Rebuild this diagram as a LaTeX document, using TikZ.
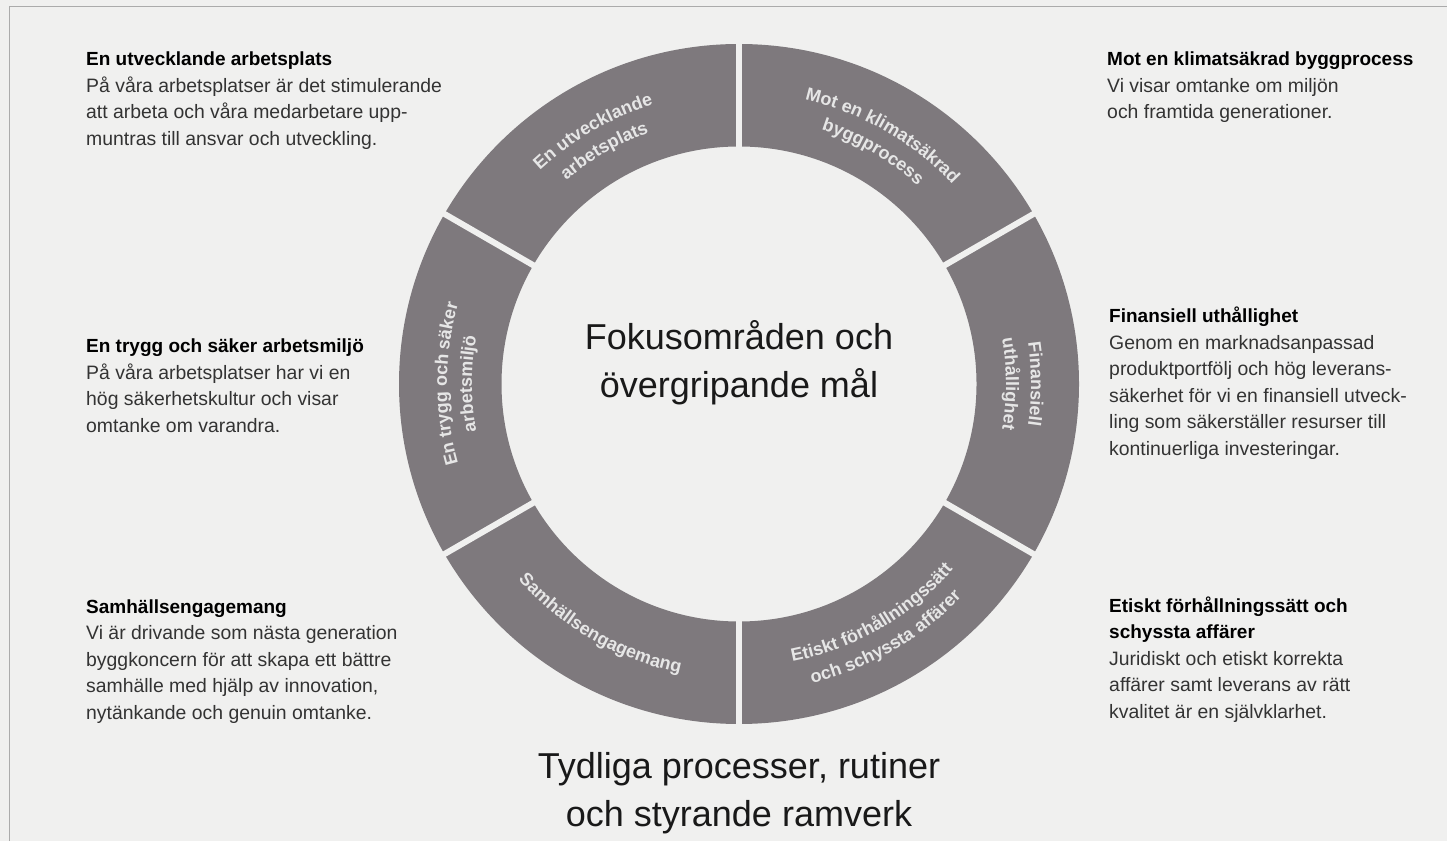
\documentclass[tikz,border=0pt]{standalone}
\usepackage{fontspec}
\setmainfont{Liberation Sans}
\usetikzlibrary{decorations.text}

\definecolor{bg}{HTML}{F0F0EF}
\definecolor{ring}{HTML}{7E797D}
\definecolor{ringtxt}{HTML}{E6E6E6}
\definecolor{frame}{HTML}{ABABAB}
\definecolor{bodytxt}{HTML}{333333}

\newcommand{\ringfont}{\fontsize{18}{18}\selectfont\bfseries\color{ringtxt}}
\newcommand{\head}[1]{\textcolor{black}{\fontsize{19}{26.5}\selectfont\bfseries #1}}

\tikzstyle{block}=[anchor=base west,align=left,inner sep=0pt,text=bodytxt,font=\fontsize{19.4}{26.5}\selectfont]
\tikzstyle{title}=[align=center,inner sep=0pt,text=black!90,font=\fontsize{36}{48}\selectfont]
\tikzset{ringlabel/.style={decorate,decoration={text along path,text align=center,text={|\ringfont|#1}}}}

\begin{document}
\begin{tikzpicture}[x=1pt,y=1pt]
	\fill[bg] (0,0) rectangle (1447,841);
	\useasboundingbox (0,0) rectangle (1447,841);
	\draw[frame,line width=1.5pt] (9.3,0) -- (9.3,834.3) -- (1447,834.3);

	% the ring of six areas
	\coordinate (c) at (739,457);
	\begin{scope}[shift={(c)}]
		\fill[ring,even odd rule] (0,0) circle (340) (0,0) circle (237.5);
		\foreach \a in {30,90,...,330}
			\draw[bg,line width=6pt] (\a:230) -- (\a:350);
		% labels, clockwise on top and sides
		\path[ringlabel={En utvecklande}] (150:292) arc[start angle=150,end angle=90,radius=292];
		\path[ringlabel={arbetsplats}] (150:267) arc[start angle=150,end angle=90,radius=267];
		\path[ringlabel={Mot en klimatsäkrad}] (90:292) arc[start angle=90,end angle=30,radius=292];
		\path[ringlabel={byggprocess}] (90:267) arc[start angle=90,end angle=30,radius=267];
		\path[ringlabel={Finansiell}] (30:292) arc[start angle=30,end angle=-30,radius=292];
		\path[ringlabel={uthållighet}] (30:267) arc[start angle=30,end angle=-30,radius=267];
		\path[ringlabel={En trygg och säker}] (210:292) arc[start angle=210,end angle=150,radius=292];
		\path[ringlabel={arbetsmiljö}] (210:267) arc[start angle=210,end angle=150,radius=267];
		% labels, counterclockwise at the bottom
		\path[ringlabel={Samhällsengagemang}] (210:295) arc[start angle=210,end angle=270,radius=295];
		\path[ringlabel={Etiskt förhållningssätt}] (270:283) arc[start angle=270,end angle=330,radius=283];
		\path[ringlabel={och schyssta affärer}] (270:308) arc[start angle=270,end angle=330,radius=308];
	\end{scope}

	\node[title] (focus) at (739,478) {Fokusområden och\\övergripande mål};
	\node[title] (rules) at (739,48) {Tydliga processer, rutiner\\och styrande ramverk};

	% text blocks, placed at the baseline of their last line
	\node[block] (work) at (86,695.5) {\head{En utvecklande arbetsplats}\\På våra arbetsplatser är det stimulerande\\att arbeta och våra medarbetare upp-\\muntras till ansvar och utveckling.};
	\node[block] (climate) at (1107,722) {\head{Mot en klimatsäkrad byggprocess}\\Vi visar omtanke om miljön\\och framtida generationer.};
	\node[block] (safety) at (86,408.5) {\head{En trygg och säker arbetsmiljö}\\På våra arbetsplatser har vi en\\hög säkerhetskultur och visar\\omtanke om varandra.};
	\node[block] (finance) at (1109,385.5) {\head{Finansiell uthållighet}\\Genom en marknadsanpassad\\produktportfölj och hög leverans-\\säkerhet för vi en finansiell utveck-\\ling som säkerställer resurser till\\kontinuerliga investeringar.};
	\node[block] (society) at (86,122) {\head{Samhällsengagemang}\\Vi är drivande som nästa generation\\byggkoncern för att skapa ett bättre\\samhälle med hjälp av innovation,\\nytänkande och genuin omtanke.};
	\node[block] (ethics) at (1109,123) {\head{Etiskt förhållningssätt och}\\\head{schyssta affärer}\\Juridiskt och etiskt korrekta\\affärer samt leverans av rätt\\kvalitet är en självklarhet.};
\end{tikzpicture}
\end{document}
